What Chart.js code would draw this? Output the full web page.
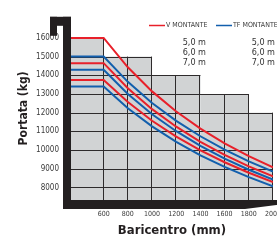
<!DOCTYPE html>
<html>
<head>
<meta charset="utf-8">
<script src="https://cdn.jsdelivr.net/npm/chart.js@4.4.0/dist/chart.umd.min.js"></script>
<style>
html, body { margin: 0; padding: 0; background: #fff; overflow: hidden; width: 277px; height: 244px; }
#wrap { width: 300px; height: 244px; }
</style>
</head>
<body>
<div id="wrap"><canvas id="myChart" width="300" height="244"></canvas></div>
<script>
// baricentro (mm) and portata (kg)
const baricentro = [330, 600, 800, 1000, 1200, 1400, 1600, 1800, 2000];
const v50  = [16000, 16000, 14430, 13140, 12060, 11150, 10360, 9680, 9080];
const v60  = [14650, 14650, 13310, 12190, 11250, 10440, 9740, 9130, 8590];
const v70  = [13750, 13750, 12570, 11570, 10720, 9990, 9350, 8790, 8290];
const tf50 = [15000, 15000, 13650, 12520, 11560, 10740, 10020, 9400, 8850];
const tf60 = [14300, 14300, 13000, 11920, 11010, 10220, 9540, 8950, 8420];
const tf70 = [13400, 13400, 12240, 11270, 10440, 9720, 9100, 8550, 8060];

const xTicks = [600, 800, 1000, 1200, 1400, 1600, 1800, 2000];
const yTicks = [8000, 9000, 10000, 11000, 12000, 13000, 14000, 15000, 16000];

// stepped grey field behind the curves
const stairEdges = [330, 600, 1000, 1400, 1800, 2000];
const stairTops = [16000, 15000, 14000, 13000, 12000];

const legendLabels = ['V MONTANTE', 'TF MONTANTE'];
const mastHeights = ['5,0 m', '6,0 m', '7,0 m'];

const RED = '#e8202a';
const BLUE = '#125fad';
const INK = '#231f20';
const FONT = "'DejaVu Sans Condensed', 'Liberation Sans Narrow', sans-serif";

function pts(arr) {
    return arr.map((v, i) => ({ x: baricentro[i], y: v }));
}
function line(label, arr, color) {
    return {
        label: label,
        data: pts(arr),
        borderColor: color,
        backgroundColor: color,
        borderWidth: 2,
        pointRadius: 0,
        tension: 0,
        fill: false
    };
}

const mastPlugin = {
    id: 'mast',
    beforeDatasetsDraw(chart) {
        const ctx = chart.ctx;
        const a = chart.chartArea;
        const xs = chart.scales.x;
        const ys = chart.scales.y;
        ctx.save();
        // grey cells
        ctx.fillStyle = '#d1d3d4';
        for (let i = 0; i < stairTops.length; i++) {
            let x0 = xs.getPixelForValue(stairEdges[i]);
            let x1 = xs.getPixelForValue(stairEdges[i + 1]);
            let y0 = ys.getPixelForValue(stairTops[i]);
            ctx.fillRect(x0, y0, x1 - x0, a.bottom - y0);
        }
        ctx.strokeStyle = '#2e2b2c';
        ctx.lineWidth = 1;
        ctx.beginPath();
        // horizontal grid
        yTicks.forEach(v => {
            let j = -1;
            for (let i = 0; i < stairTops.length; i++) {
                if (stairTops[i] >= v) j = i;
            }
            if (j < 0) return;
            let y = Math.round(ys.getPixelForValue(v)) + 0.5;
            ctx.moveTo(a.left, y);
            ctx.lineTo(xs.getPixelForValue(stairEdges[j + 1]), y);
        });
        // vertical grid
        xTicks.forEach(t => {
            let top = 0;
            for (let i = 0; i < stairTops.length; i++) {
                if (stairEdges[i] <= t && stairEdges[i + 1] >= t) top = Math.max(top, stairTops[i]);
            }
            let x = Math.round(xs.getPixelForValue(t)) - 0.5;
            ctx.moveTo(x, ys.getPixelForValue(top));
            ctx.lineTo(x, a.bottom);
        });
        ctx.stroke();

        // black mast frame
        ctx.fillStyle = INK;
        ctx.fillRect(a.left - 8, a.top, 8, a.bottom + 9 - a.top);
        ctx.fillRect(a.left - 21, a.top, 21, 9);
        ctx.fillRect(a.left - 21, a.top, 7, 19);
        ctx.beginPath();
        ctx.moveTo(a.left - 8, a.bottom);
        ctx.lineTo(chart.width, a.bottom);
        ctx.lineTo(chart.width, a.bottom + 2);
        ctx.lineTo(a.right - 28, a.bottom + 9);
        ctx.lineTo(a.left - 8, a.bottom + 9);
        ctx.closePath();
        ctx.fill();
        ctx.restore();
    },
    afterDraw(chart) {
        const ctx = chart.ctx;
        ctx.save();
        // legend
        ctx.lineWidth = 1.5;
        ctx.font = '7px ' + FONT;
        ctx.fillStyle = '#3a3a3a';
        ctx.textBaseline = 'middle';
        ctx.textAlign = 'left';
        [[149, RED], [216, BLUE]].forEach((p, i) => {
            ctx.strokeStyle = p[1];
            ctx.beginPath();
            ctx.moveTo(p[0], 25.5);
            ctx.lineTo(p[0] + 16, 25.5);
            ctx.stroke();
            ctx.fillText(legendLabels[i], p[0] + 17, 25.5);
        });
        // mast heights
        ctx.font = '9px ' + FONT;
        ctx.fillStyle = '#333';
        ctx.textAlign = 'right';
        mastHeights.forEach((h, i) => {
            ctx.fillText(h, 206, 43 + i * 10);
            ctx.fillText(h, 275, 43 + i * 10);
        });
        ctx.restore();
    }
};

let canvas = document.getElementById('myChart').getContext('2d');
let myChart = new Chart(canvas, {
    type: 'line',
    data: {
        datasets: [
            line('V 5,0 m', v50, RED),
            line('TF 5,0 m', tf50, BLUE),
            line('V 6,0 m', v60, RED),
            line('TF 6,0 m', tf60, BLUE),
            line('V 7,0 m', v70, RED),
            line('TF 7,0 m', tf70, BLUE)
        ]
    },
    options: {
        responsive: false,
        animation: false,
        devicePixelRatio: 1,
        layout: { padding: { left: 0, top: 13, right: 27, bottom: 0 } },
        plugins: {
            legend: { display: false },
            tooltip: { enabled: false }
        },
        scales: {
            x: {
                type: 'linear',
                min: 330,
                max: 2000,
                afterBuildTicks: s => { s.ticks = xTicks.map(v => ({ value: v })); },
                afterFit: s => { s.height = 44; },
                grid: { display: false, drawTicks: false },
                border: { display: false },
                ticks: {
                    padding: 10,
                    maxRotation: 0,
                    autoSkip: false,
                    color: '#3a3a3a',
                    font: { family: FONT, size: 7 },
                    callback: v => String(v)
                },
                title: {
                    display: true,
                    text: 'Baricentro (mm)',
                    color: INK,
                    font: { family: FONT, size: 13, weight: 'bold' },
                    padding: { top: 0, bottom: 6 }
                }
            },
            y: {
                min: 7330,
                max: 17130,
                afterBuildTicks: s => { s.ticks = yTicks.map(v => ({ value: v })); },
                afterFit: s => { s.width = 71; },
                grid: { display: false, drawTicks: false },
                border: { display: false },
                ticks: {
                    padding: 12,
                    autoSkip: false,
                    color: '#3a3a3a',
                    font: { family: FONT, size: 8 },
                    callback: v => String(v)
                },
                title: {
                    display: true,
                    text: 'Portata (kg)',
                    color: INK,
                    font: { family: FONT, size: 12, weight: 'bold' },
                    padding: { top: 17, bottom: 0 }
                }
            }
        }
    },
    plugins: [mastPlugin]
});
</script>
</body>
</html>
